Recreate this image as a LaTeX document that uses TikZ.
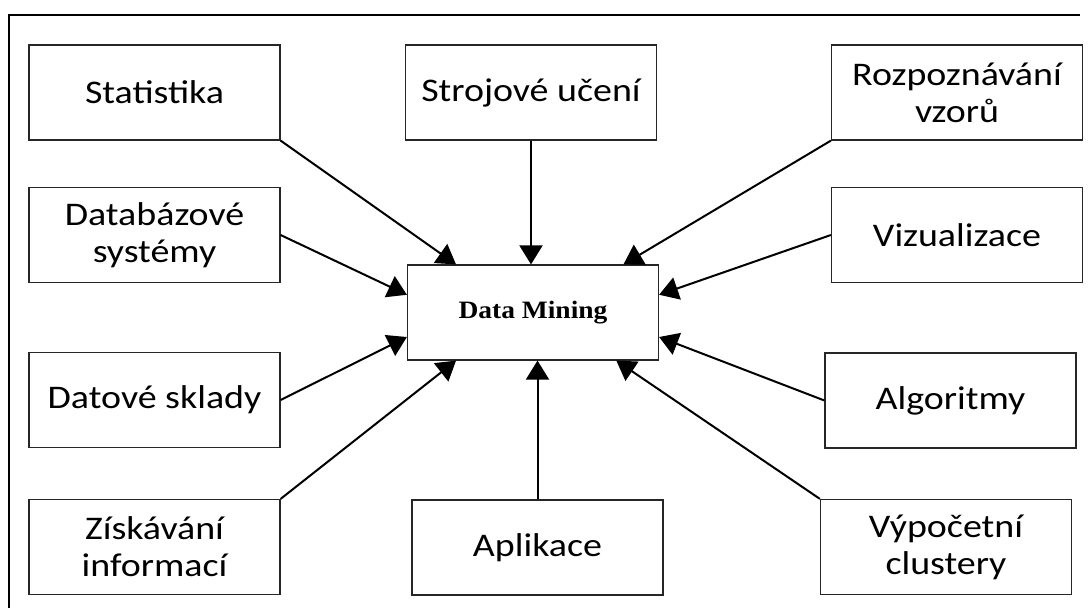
\documentclass[tikz,border=0pt]{standalone}
\usepackage{fontspec}
\setmainfont{Carlito}[FakeStretch=1.15]
\newfontfamily\dmfont{Liberation Serif}[FakeStretch=1.1]
\usetikzlibrary{arrows.meta}

\begin{document}
\begin{tikzpicture}[x=1pt,y=-1pt,
  box/.style={draw=black!85,line width=1.2pt,minimum width=251pt,minimum height=95pt,
              inner sep=0pt,align=center,font=\fontsize{33}{37}\selectfont},
  hub/.style={box,font=\dmfont\bfseries\fontsize{25}{30}\selectfont},
  feed/.style={line width=2pt,-{Triangle[length=19pt,width=23pt]}}]
\useasboundingbox (0,0) rectangle (1089,608);
\draw[line width=2.4pt] (1080,15) -- (9,15) -- (9,608);

\draw (533,312.5)   node (dm)    [hub] {Data Mining};

\draw (154.5,92.5)  node (stat)  [box] {Statistika};
\draw (531,92.5)    node (stroj) [box] {Strojové učení};
\draw (957,92.5)    node (rozp)  [box] {Rozpoznávání\\vzorů};

\draw (154.5,235)   node (db)    [box] {Databázové\\systémy};
\draw (957,235)     node (viz)   [box] {Vizualizace};

\draw (154.5,400)   node (dsk)   [box] {Datové sklady};
\draw (950.5,400.5) node (alg)   [box] {Algoritmy};

\draw (154.5,547)   node (zisk)  [box] {Získávání\\informací};
\draw (537.5,547.5) node (apl)   [box] {Aplikace};
\draw (946,547)     node (vyp)   [box] {Výpočetní\\clustery};

\draw[feed] (stat.south east) -- (dm.148);
\draw[feed] (stroj.south) -- (stroj.south |- dm.north);
\draw[feed] (rozp.south west) -- (dm.28.6);
\draw[feed] (db.east) -- (dm.172.1);
\draw[feed] (viz.west) -- (dm.8.4);
\draw[feed] (dsk.east) -- (dm.191);
\draw[feed] (alg.west) -- (dm.349);
\draw[feed] (zisk.north east) -- (dm.212);
\draw[feed] (apl.north) -- (apl.north |- dm.south);
\draw[feed] (vyp.north west) -- (dm.330.8);
\end{tikzpicture}
\end{document}
